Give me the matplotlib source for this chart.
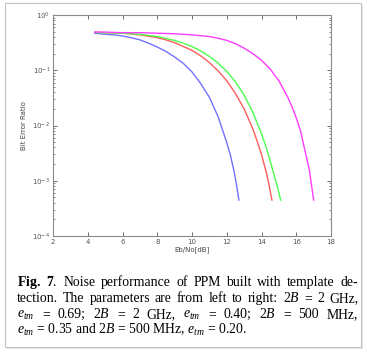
import matplotlib
matplotlib.use("Agg")
import matplotlib.pyplot as plt
from matplotlib.patches import Rectangle
from matplotlib.ticker import LogLocator, NullFormatter

# Eb/No [dB] and bit error ratio (left to right)
snr_blue = [4.4, 5.0, 5.5, 6.0, 6.5, 7.0, 7.5, 8.0, 8.5, 9.0, 9.5, 10.0, 10.5, 11.0, 11.5, 12.0, 12.2,
            12.4, 12.55, 12.7]
ber_blue = [0.468, 0.447, 0.437, 0.417, 0.389, 0.355, 0.309, 0.263, 0.219, 0.174, 0.133, 0.0933,
            0.0575, 0.0324, 0.0145, 0.0049, 0.003, 0.00158, 0.00089, 0.000447]

snr_red = [4.4, 5.0, 6.0, 7.0, 8.0, 8.5, 9.0, 9.5, 10.0, 10.5, 11.0, 11.5, 12.0, 12.5, 13.0, 13.5, 13.75,
           14.0, 14.3, 14.45, 14.6]
ber_red = [0.49, 0.479, 0.468, 0.437, 0.389, 0.355, 0.316, 0.269, 0.229, 0.182, 0.138, 0.0977, 0.0646,
           0.038, 0.02, 0.0087, 0.0052, 0.003, 0.00132, 0.00079, 0.000447]

snr_green = [4.5, 5.0, 6.0, 7.0, 8.0, 9.0, 9.5, 10.0, 10.5, 11.0, 11.5, 12.0, 12.5, 13.0, 13.5, 14.0, 14.25,
             14.5, 14.8, 14.95, 15.1]
ber_green = [0.479, 0.479, 0.468, 0.447, 0.407, 0.347, 0.309, 0.269, 0.224, 0.178, 0.135, 0.0955, 0.0617,
             0.0355, 0.0174, 0.00708, 0.0042, 0.00229, 0.00105, 0.00071, 0.000447]

snr_magenta = [4.4, 5.0, 6.0, 7.0, 8.0, 9.0, 10.0, 11.0, 11.5, 12.0, 12.5, 13.0, 13.5, 14.0, 14.5, 15.0, 15.5,
               15.75, 16.0, 16.25, 16.5, 16.75, 17.0]
ber_magenta = [0.49, 0.49, 0.479, 0.479, 0.468, 0.457, 0.437, 0.407, 0.38, 0.347, 0.302, 0.251, 0.2, 0.151,
               0.105, 0.0646, 0.0331, 0.022, 0.0138, 0.0079, 0.0035, 0.0016, 0.000447]

x_ticks = [2, 4, 6, 8, 10, 12, 14, 16, 18]

caption_lines = [
    ["$\\mathbf{Fig.}$", "$\\mathbf{7}$.", "Noise", "performance", "of", "PPM", "built", "with", "template", "de-"],
    ["tection.", "The", "parameters", "are", "from", "left", "to", "right:", "2$B$", "=", "2", "GHz,"],
    ["$e_{tm}$", "=", "0.69;", "2$B$", "=", "2", "GHz,", "$e_{tm}$", "=", "0.40;", "2$B$", "=", "500", "MHz,"],
]
caption_last = "$e_{tm}$ = 0.35 and 2$B$ = 500 MHz, $e_{tm}$ = 0.20."

W, H = 367, 353
plt.rcParams["mathtext.fontset"] = "custom"
plt.rcParams["mathtext.rm"] = "Liberation Serif"
plt.rcParams["mathtext.it"] = "Liberation Serif:italic"
plt.rcParams["mathtext.bf"] = "Liberation Serif:bold"

fig = plt.figure(figsize=(W / 100, H / 100), dpi=100)
fig.patch.set_facecolor("white")

# page panel with a soft shadow
for off, col in [(2, "#e4e4e4"), (1, "#d0d0d0")]:
    fig.add_artist(Rectangle(((5 + off) / W, 1 - (347 + off) / H), 356 / W, 344 / H,
                             transform=fig.transFigure, facecolor=col, edgecolor="none", zorder=-3))
fig.add_artist(Rectangle((5 / W, 1 - 347 / H), 356 / W, 344 / H, transform=fig.transFigure,
                         facecolor="white", edgecolor="#c4c4c4", lw=0.8, zorder=-2))

ax = fig.add_axes([53 / W, 1 - 236 / H, 278 / W, 221 / H])
ax.set_facecolor("white")
ax.plot(snr_blue, ber_blue, color="#7272ff", lw=1.0)
ax.plot(snr_red, ber_red, color="#ff5c5c", lw=1.0)
ax.plot(snr_green, ber_green, color="#4cff4c", lw=1.0)
ax.plot(snr_magenta, ber_magenta, color="#ff3cff", lw=1.0)

ax.set_yscale("log")
ax.set_xlim(2, 18)
ax.set_ylim(1e-4, 1)
ax.set_xticks(x_ticks)
ax.yaxis.set_major_locator(LogLocator(base=10, numticks=10))
ax.yaxis.set_minor_locator(LogLocator(base=10, subs=range(2, 10), numticks=10))
ax.yaxis.set_minor_formatter(NullFormatter())
ax.tick_params(which="both", direction="in", top=True, right=True, labelsize=5, colors="#555555",
               pad=2)
ax.tick_params(which="major", length=3, width=0.6)
ax.tick_params(which="minor", length=1.7, width=0.5)
for sp in ax.spines.values():
    sp.set_color("#8a8a8a")
    sp.set_linewidth(0.8)
ax.set_xlabel("Eb/No[dB]", fontsize=5, color="#444444", labelpad=1)
ax.set_ylabel("Bit Error Ratio", fontsize=5, color="#444444", labelpad=4)

# caption, justified between x0 and x1 like the page
renderer = fig.canvas.get_renderer()
x0, x1 = 17, 358
baselines = [286, 302, 318, 334]
style = dict(fontsize=9.9, family="Liberation Serif", color="black", va="baseline", ha="left")
for line, base in zip(caption_lines, baselines):
    texts = []
    for word in line:
        texts.append(fig.text(0, 1 - base / H, word, **style))
    widths = [t.get_window_extent(renderer).width for t in texts]
    gap = (x1 - x0 - sum(widths)) / (len(texts) - 1)
    x = x0
    for t, w in zip(texts, widths):
        t.set_x(x / W)
        x += w + gap
fig.text(x0 / W, 1 - baselines[3] / H, caption_last, **style)

fig.savefig("out.png", dpi=100, facecolor="white")
